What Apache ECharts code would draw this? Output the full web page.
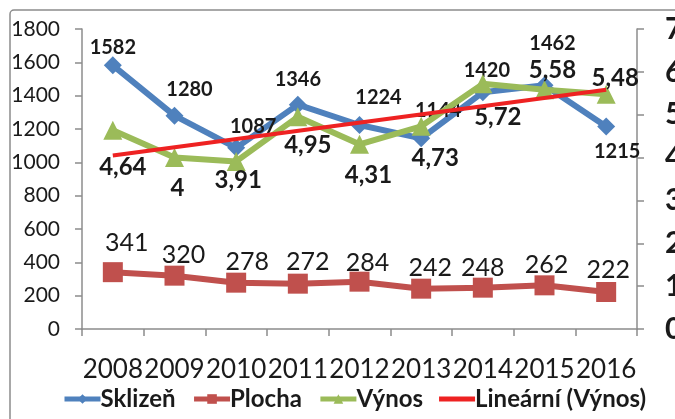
<!DOCTYPE html>
<html><head><meta charset="utf-8">
<script src="https://cdn.jsdelivr.net/npm/echarts@6/dist/echarts.min.js"></script>
<style>html,body{margin:0;padding:0;background:#fff}#c{width:675px;height:419px}</style>
</head><body><div id="c"></div>
<script>
const categories = ['2008','2009','2010','2011','2012','2013','2014','2015','2016'];
const sklizen = [1582, 1280, 1087, 1346, 1224, 1144, 1420, 1462, 1215];
const plocha = [341, 320, 278, 272, 284, 242, 248, 262, 222];
const vynos = [4.64, 4, 3.91, 4.95, 4.31, 4.73, 5.72, 5.58, 5.48];
const trendEnds = [4.05, 5.58]; // trend line values at 2008 and 2016
const leftTicks = {min: 0, max: 1800, interval: 200};
const rightTicks = {min: 0, max: 7, interval: 1};

// label layout (pixel offsets from marker centre)
const sklizenLbl = [[0,-18],[15,-26],[17,-21],[0,-25],[19,-27],[17,-28],[4,-22],[8,-42],[11,25]];
const plochaLbl = [[14,-29],[9,-21],[11,-21],[10,-22],[8,-19],[9,-21],[0,-20],[2,-20],[2,-22]];
const vynosLbl = [[10,37],[3,31],[2,19],[10,28],[9,31],[14,32],[15,33],[8,-20],[9,-16]];

const trendData = categories.map((c,i)=> i===0 ? trendEnds[0] : (i===categories.length-1 ? trendEnds[1] : null));

const FONT = 'Lato';
const fmtComma = v => String(v).replace('.', ',');
function withLabels(vals, offs, fmt){
  return vals.map((v,i)=>({value:v, label:{offset:offs[i], formatter: fmt ? fmt(v) : String(v)}}));
}

const chart = echarts.init(document.getElementById('c'), null, {renderer:'canvas'});
chart.setOption({
  animation:false,
  textStyle:{fontFamily:FONT},
  graphic:[{type:'rect', shape:{x:10,y:10,width:720,height:460,r:4}, style:{fill:'none', stroke:'#8c8c8c', lineWidth:1.5}, z:-1}],
  grid:{left:82, right:38, top:29, bottom:90, containLabel:false, outerBoundsMode:'none'},
  legend:{
    left:57, top:382, itemWidth:36, itemHeight:12, itemGap:16,
    lineStyle:{width:5},
    textStyle:{fontFamily:FONT, fontWeight:'bold', fontSize:24, color:'#1a1a1a', padding:[0,0,0,-5]},
    data:[
      {name:'Sklizeň'},{name:'Plocha'},{name:'Výnos'},
      {name:'Lineární (Výnos)', icon:'path://M0,0 L36,0 L36,5 L0,5 Z', itemStyle:{color:'#EE2222'}}
    ]
  },
  xAxis:{
    type:'category', data:categories, boundaryGap:true,
    axisLine:{lineStyle:{color:'#8c8c8c', width:1.5}},
    axisTick:{show:true, length:7, lineStyle:{color:'#8c8c8c', width:1.5}},
    axisLabel:{interval:0, margin:28, fontFamily:FONT, fontSize:26, color:'#1a1a1a'}
  },
  yAxis:[{
    type:'value', min:leftTicks.min, max:leftTicks.max, interval:leftTicks.interval,
    axisLine:{show:true, lineStyle:{color:'#8c8c8c', width:1.5}},
    axisTick:{show:true, length:7, lineStyle:{color:'#8c8c8c', width:1.5}},
    splitLine:{show:false},
    axisLabel:{margin:22, fontFamily:FONT, fontSize:21, color:'#1a1a1a', formatter: v => String(v)}
  },{
    type:'value', min:rightTicks.min, max:rightTicks.max, interval:rightTicks.interval,
    axisLine:{show:true, lineStyle:{color:'#8c8c8c', width:1.5}},
    axisTick:{show:true, length:7, lineStyle:{color:'#8c8c8c', width:1.5}},
    splitLine:{show:false},
    axisLabel:{margin:28, fontFamily:FONT, fontSize:30, fontWeight:'bold', color:'#1a1a1a', formatter: v => String(v)}
  }],
  series:[{
    name:'Sklizeň', type:'line', yAxisIndex:0,
    data:withLabels(sklizen, sklizenLbl),
    symbol:'diamond', symbolSize:18, color:'#4F81BD',
    lineStyle:{width:6, color:'#4F81BD'}, itemStyle:{color:'#4F81BD'},
    label:{show:true, position:'inside', fontFamily:FONT, fontWeight:'bold', fontSize:20, color:'#1a1a1a'},
    z:2
  },{
    name:'Plocha', type:'line', yAxisIndex:0,
    data:withLabels(plocha, plochaLbl),
    symbol:'rect', symbolSize:20, color:'#C0504D',
    lineStyle:{width:6, color:'#C0504D'}, itemStyle:{color:'#C0504D'},
    label:{show:true, position:'inside', fontFamily:FONT, fontSize:25, color:'#1a1a1a'},
    z:3
  },{
    name:'Výnos', type:'line', yAxisIndex:1,
    data:withLabels(vynos, vynosLbl, fmtComma),
    symbol:'triangle', symbolSize:19, color:'#9BBB59',
    lineStyle:{width:6, color:'#9BBB59'}, itemStyle:{color:'#9BBB59'},
    label:{show:true, position:'inside', fontFamily:FONT, fontWeight:'bold', fontSize:24, color:'#1a1a1a'},
    z:4
  },{
    name:'Lineární (Výnos)', type:'line', yAxisIndex:1,
    data:trendData, connectNulls:true, symbol:'none', color:'#EE2222',
    lineStyle:{width:4, color:'#EE2222'},
    z:5
  }]
});
</script></body></html>
